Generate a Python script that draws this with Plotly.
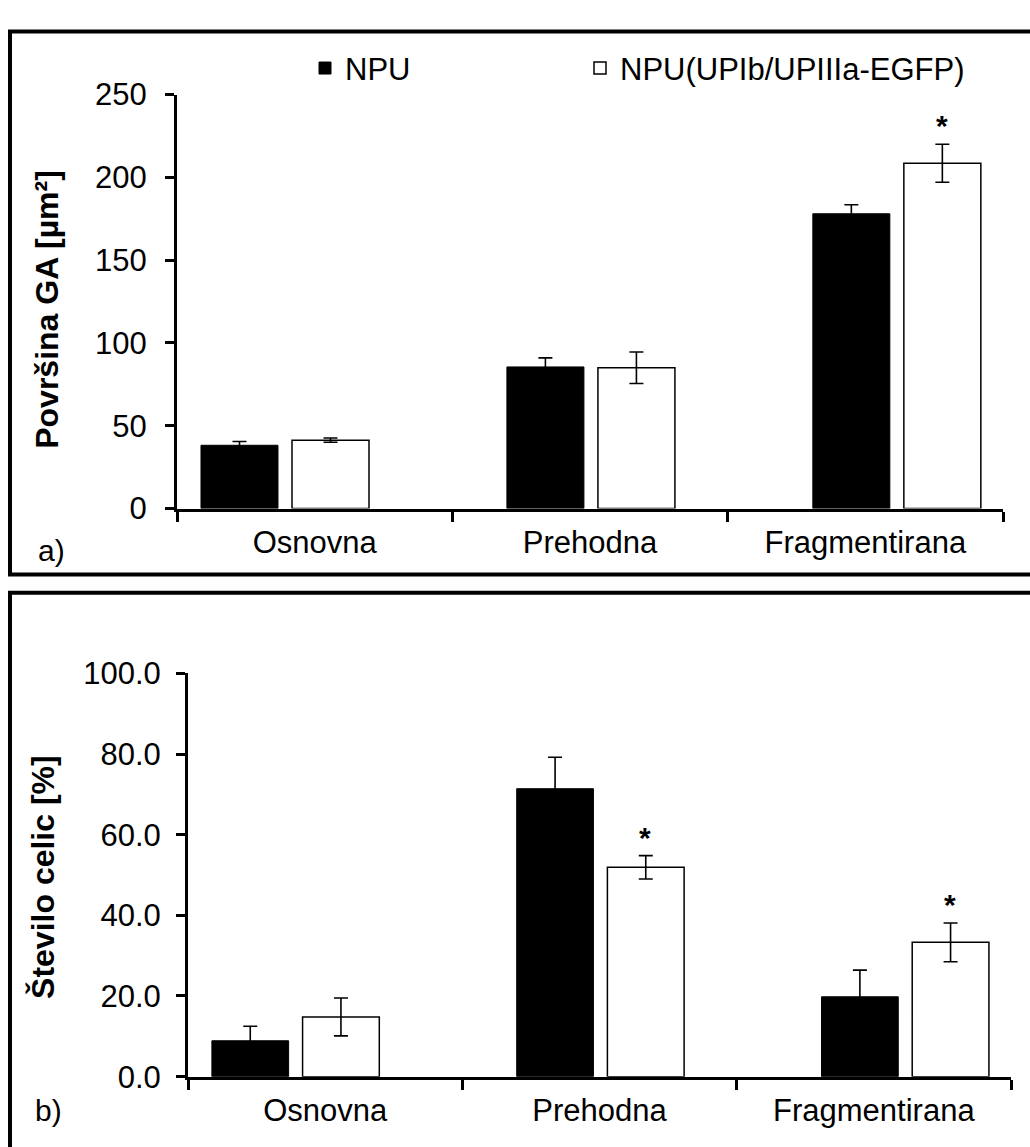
import plotly.graph_objects as go

# ---------------- data ----------------
categories = ["Osnovna", "Prehodna", "Fragmentirana"]
series_names = ["NPU", "NPU(UPIb/UPIIIa-EGFP)"]

# panel a) Površina GA [µm²]
area_npu = [38.2, 85.5, 178.0]
area_npu_err = [2.3, 5.5, 5.5]
area_egfp = [41.3, 85.0, 208.5]
area_egfp_err = [1.3, 9.5, 11.5]
area_sig = [False, False, True]

# panel b) Število celic [%]
cells_npu = [8.9, 71.4, 19.8]
cells_npu_err = [3.6, 7.8, 6.6]
cells_egfp = [14.8, 51.9, 33.3]
cells_egfp_err = [4.7, 2.9, 4.8]
cells_sig = [False, True, True]

area_ticks = [0, 50, 100, 150, 200, 250]
cells_ticks = [0, 20, 40, 60, 80, 100]

# ---------------- layout constants ----------------
W, H = 1030, 1147
FONT = "Liberation Sans, Arial, sans-serif"
FS = 31


def px_x(p):
    return p / W


def px_y(p):
    return 1 - p / H


fig = go.Figure()

err_style = dict(type="data", color="black", thickness=1.6, width=7, visible=True)


def add_panel(xa, ya, npu, npu_err, egfp, egfp_err, show):
    fig.add_trace(go.Bar(
        x=categories, y=npu, name=series_names[0],
        marker=dict(color="black", line=dict(color="black", width=1)),
        error_y=dict(array=npu_err, **err_style),
        xaxis=xa, yaxis=ya, showlegend=show, legend="legend"))
    fig.add_trace(go.Bar(
        x=categories, y=egfp, name=series_names[1],
        marker=dict(color="white", line=dict(color="black", width=1.5)),
        error_y=dict(array=egfp_err, **err_style),
        xaxis=xa, yaxis=ya, showlegend=show, legend="legend2"))


add_panel("x", "y", area_npu, area_npu_err, area_egfp, area_egfp_err, True)
add_panel("x2", "y2", cells_npu, cells_npu_err, cells_egfp, cells_egfp_err, False)

# empty traces so the overlay category-boundary axes are created
fig.add_trace(go.Scatter(x=[], y=[], xaxis="x3", yaxis="y", showlegend=False))
fig.add_trace(go.Scatter(x=[], y=[], xaxis="x4", yaxis="y2", showlegend=False))

axis_common = dict(showgrid=False, zeroline=False, showline=True, linecolor="black",
                   linewidth=3, ticks="outside", ticklen=9, tickwidth=3,
                   tickcolor="black", tickfont=dict(family=FONT, size=FS, color="black"))

top_dom_x = [px_x(177), px_x(1003)]
bot_dom_x = [px_x(188), px_x(1011)]
top_dom_y = [px_y(507), px_y(80)]
bot_dom_y = [px_y(1093), px_y(677)]

bar_range = [-0.353, 2.347]
n = len(categories)
bound_axis = dict(range=[0, n], showgrid=False, zeroline=False, showline=True,
                  linecolor="black", linewidth=3, ticks="",
                  tickvals=[i + 0.5 for i in range(n)], ticktext=categories,
                  tickfont=dict(family=FONT, size=FS, color="black"),
                  ticklabelstandoff=4,
                  minor=dict(tickmode="array", tickvals=list(range(n + 1)),
                             ticks="outside", ticklen=10, tickwidth=3, tickcolor="black",
                             showgrid=False))

legend_common = dict(orientation="h", yanchor="middle", xanchor="left",
                     font=dict(family=FONT, size=FS, color="black"),
                     bgcolor="rgba(0,0,0,0)", borderwidth=0)

fig.update_layout(
    width=W, height=H,
    margin=dict(l=0, r=0, t=0, b=0),
    paper_bgcolor="white", plot_bgcolor="white",
    barmode="group", bargap=0.405, bargroupgap=0.154,
    font=dict(family=FONT, size=FS, color="black"),
    xaxis=dict(domain=top_dom_x, anchor="y", type="category", range=bar_range,
               visible=False),
    yaxis=dict(domain=top_dom_y, anchor="x3", range=[0, 250], tickvals=area_ticks,
               ticklabelstandoff=12, **axis_common),
    xaxis3=dict(domain=top_dom_x, anchor="y", overlaying="x", **bound_axis),
    xaxis2=dict(domain=bot_dom_x, anchor="y2", type="category", range=bar_range,
                visible=False),
    yaxis2=dict(domain=bot_dom_y, anchor="x4", range=[0, 100], tickvals=cells_ticks,
                tickformat=".1f", ticklabelstandoff=9, **axis_common),
    xaxis4=dict(domain=bot_dom_x, anchor="y2", overlaying="x2", **bound_axis),
    legend=dict(x=px_x(305), y=px_y(53), **legend_common),
    legend2=dict(x=px_x(580), y=px_y(53), **legend_common),
)

annotations = []
# y-axis titles
annotations.append(dict(text="<b>Površina GA [µm²]</b>", textangle=-90,
                        xref="paper", yref="paper", x=px_x(47), y=px_y(302),
                        xanchor="center", yanchor="middle", showarrow=False,
                        font=dict(family=FONT, size=32, color="black")))
annotations.append(dict(text="<b>Število celic [%]</b>", textangle=-90,
                        xref="paper", yref="paper", x=px_x(43), y=px_y(887),
                        xanchor="center", yanchor="middle", showarrow=False,
                        font=dict(family=FONT, size=32, color="black")))
# panel letters
annotations.append(dict(text="a)", xref="paper", yref="paper", x=px_x(36), y=px_y(550),
                        xanchor="left", yanchor="middle", showarrow=False,
                        font=dict(family=FONT, size=30, color="black")))
annotations.append(dict(text="b)", xref="paper", yref="paper", x=px_x(33), y=px_y(1128),
                        xanchor="left", yanchor="middle", showarrow=False,
                        font=dict(family=FONT, size=30, color="black")))

# significance stars above the second series
for xr, yr, vals, errs, sig in [("x", "y", area_egfp, area_egfp_err, area_sig),
                                ("x2", "y2", cells_egfp, cells_egfp_err, cells_sig)]:
    for c, v, e, s in zip(categories, vals, errs, sig):
        if s:
            annotations.append(dict(text="<b>*</b>", xref=xr, yref=yr, x=c, y=v + e,
                                    xshift=45, yshift=0, xanchor="center",
                                    yanchor="bottom", showarrow=False,
                                    font=dict(family=FONT, size=30, color="black")))

fig.update_layout(annotations=annotations)

# panel frames
fig.add_shape(type="rect", xref="paper", yref="paper",
              x0=px_x(10), x1=1.05, y0=px_y(575), y1=px_y(15),
              line=dict(color="black", width=4), fillcolor="rgba(0,0,0,0)", layer="below")
fig.add_shape(type="rect", xref="paper", yref="paper",
              x0=px_x(10), x1=1.05, y0=-0.05, y1=px_y(594),
              line=dict(color="black", width=4), fillcolor="rgba(0,0,0,0)", layer="below")

post = ("document.body.style.margin='0px';"
        "document.body.style.overflow='hidden';")

fig.write_html("out.html", config={"displayModeBar": False}, post_script=post)
